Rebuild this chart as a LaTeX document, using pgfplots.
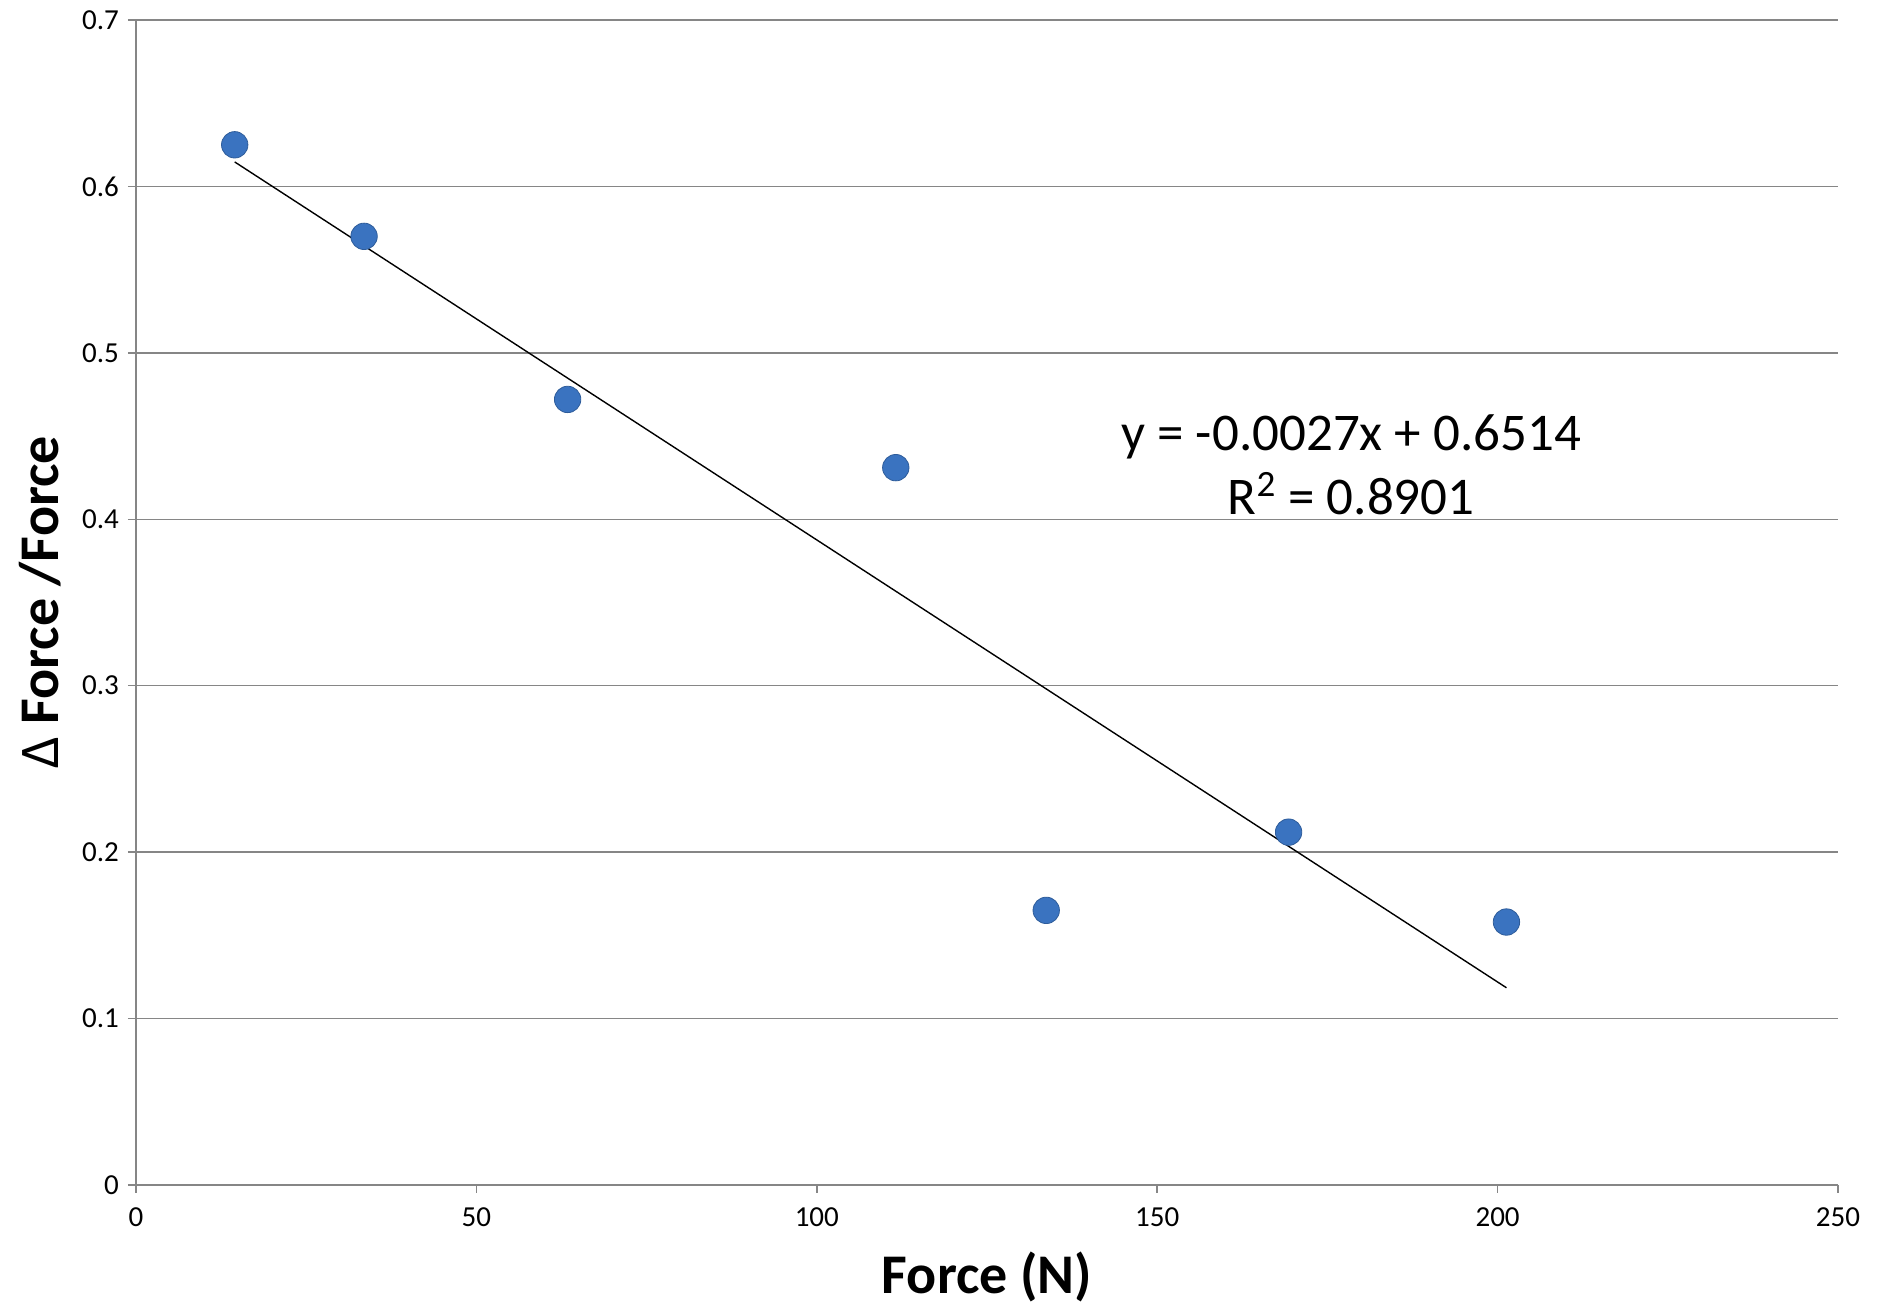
\documentclass[border=0pt]{standalone}
\usepackage{pgfplots}
\pgfplotsset{compat=1.18}
\usepackage{fontspec}
\setmainfont{Carlito}
\definecolor{ptblue}{RGB}{58,115,192}
\definecolor{gridgray}{RGB}{134,134,134}

\begin{document}
\begin{tikzpicture}
\begin{axis}[
    scale only axis,
    width=851pt, height=582.5pt,
    xmin=0, xmax=250, ymin=0, ymax=0.7,
    xtick={0,50,100,150,200,250},
    ytick={0,0.1,0.2,0.3,0.4,0.5,0.6,0.7},
    yticklabels={0,0.1,0.2,0.3,0.4,0.5,0.6,0.7},
    xticklabels={0,50,100,150,200,250},
    tick align=outside,
    major tick length=4pt,
    tick style={gridgray, line width=0.75pt},
    axis x line*=bottom, axis y line*=left,
    axis line style={gridgray, line width=0.75pt, -},
    ymajorgrids,
    grid style={gridgray, line width=0.75pt},
    ticklabel style={font=\fontsize{14.5}{16}\selectfont},
    xticklabel style={yshift=-4pt},
    yticklabel style={xshift=-1pt},
    xlabel={\bfseries Force (N)},
    ylabel={Δ \bfseries Force /Force},
    xlabel style={font=\fontsize{28}{32}\selectfont, at={(axis description cs:0.5,0)}, anchor=center, yshift=-46pt},
    ylabel style={font=\fontsize{28}{32}\selectfont, at={(axis description cs:0,0.5)}, anchor=center, yshift=48pt},
    clip=false,
]
% linear trendline (Excel), endpoints
\addplot[black, line width=0.7pt] coordinates {(14.5,0.6147) (201.3,0.1185)};
\addplot[only marks, mark=*, mark size=6.6pt, mark options={fill=ptblue, draw=ptblue!80!black, line width=0.4pt}]
coordinates {
    (14.5,0.625) (33.5,0.570) (63.4,0.472) (111.6,0.431)
    (133.7,0.165) (169.3,0.212) (201.3,0.158)
};
\node[align=center, font=\fontsize{26.5}{32}\selectfont] at (axis cs:178.5,0.4326)
    {y = -0.0027x + 0.6514\\R\textsuperscript{2} = 0.8901};
\end{axis}
\path ([shift={(-68pt,-60.5pt)}]current axis.south west) rectangle ([shift={(23.5pt,10pt)}]current axis.north east);
\end{tikzpicture}
\end{document}
